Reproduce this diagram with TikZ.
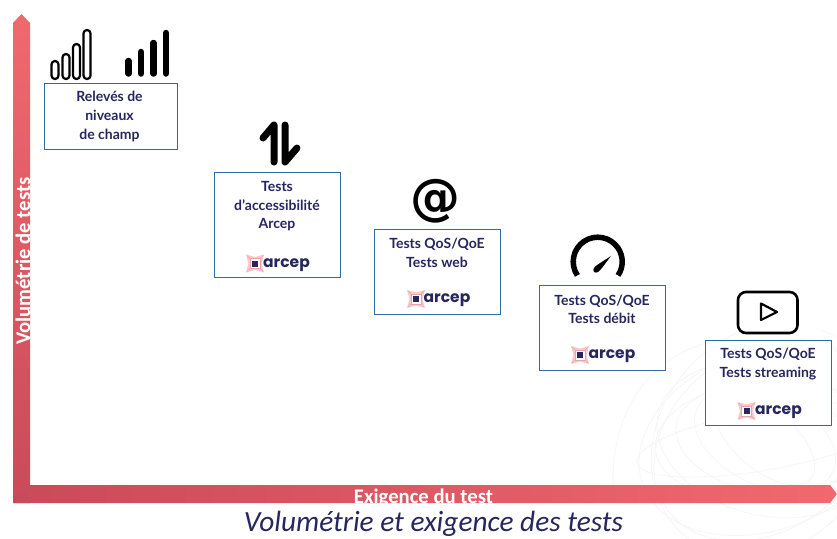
\documentclass[tikz,border=0pt]{standalone}
\usepackage{fontspec}
\setmainfont{Lato}
\newfontfamily\capfont{Carlito}
\newfontfamily\logofont{Poppins}
\newfontfamily\iconfont{DejaVu Sans}
\usetikzlibrary{shadings}
\definecolor{navy}{HTML}{27265F}
\definecolor{boxblue}{HTML}{2F6AA3}
\definecolor{redlight}{HTML}{F0696E}
\definecolor{reddark}{HTML}{C94A5A}
\definecolor{swirl}{HTML}{F6F6F6}
\definecolor{logopink}{HTML}{F6C9CC}
\definecolor{logorose}{HTML}{E9A3AA}
\tikzset{
  x=1pt,y=-1pt,
  testbox/.style={draw=boxblue,line width=1pt,fill=white,minimum width=#1,inner sep=0pt},
  boxlabel/.style={font=\bfseries\fontsize{14}{18.6}\selectfont,text=navy,align=center,inner sep=0pt},
  axislabel/.style={font=\capfont\bfseries\fontsize{20.7}{22}\selectfont,text=white,inner sep=0pt},
  captionlabel/.style={font=\capfont\itshape\fontsize{29.3}{30}\selectfont,text=navy,inner sep=0pt},
  wave/.style={draw=swirl,line width=.8pt},
  outlinebar/.style={draw=black,line width=2.2pt,fill=white,rounded corners=3.4pt},
  solidbar/.style={line cap=round,line width=6.5pt,draw=black},
  iconline/.style={draw=black,line cap=round,line join=round,line width=7pt},
  logotext/.style={font=\logofont\bfseries\fontsize{15.5}{16}\selectfont,text=navy,inner sep=0pt,anchor=west},
  logomark/.pic={
    \fill[logopink] (-9,-9) -- (0,-6.5) -- (9,-9) -- (6.5,0) -- (9,9) -- (0,6.5) -- (-9,9) -- (-6.5,0) -- cycle;
    \draw[logorose,line width=.6pt] (-8,-8) -- (8,8) (-8,8) -- (8,-8);
    \fill[white] (-4.8,-4.8) rectangle (4.8,4.8);
    \draw[logorose,line width=.6pt] (-4.8,-4.8) rectangle (4.8,4.8);
    \fill[navy] (-3,-3) rectangle (3,3);
  }
}
\begin{document}
\begin{tikzpicture}
\useasboundingbox (0,0) rectangle (837,538);
\fill[white] (0,0) rectangle (837,538);
% faint background swirl
\begin{scope}
  \clip (600,330) rectangle (837,538);
  \foreach \r/\a/\b in {110/60/130,125/60/120,95/40/110,80/35/90,65/30/75,50/20/60,140/70/125,100/20/130,75/50/110}{
    \draw[wave,rotate around={\r:(765,440)}] (765,440) ellipse ({\a*1.5} and {\b});
  }
  \draw[wave] (613,490) .. controls (610,400) and (660,350) .. (720,340);
\end{scope}
% axes
\path[top color=redlight,bottom color=reddark] (13,23) -- (21.5,14) -- (30,23) -- (30,503) -- (13,503) -- cycle;
\path[left color=reddark,right color=redlight] (30,485) -- (830,485) -- (837,494) -- (830,503) -- (13,503) -- (13,492) -- (30,492) -- cycle;
\node[axislabel,rotate=90] (ylabel) at (23,261) {Volumétrie de tests};
\begin{scope}
  \clip (13,485) rectangle (837,503);
  \node[axislabel] (xlabel) at (423.5,498) {Exigence du test};
\end{scope}
% boxes
\node[testbox=133pt,minimum height=66pt] (box1) at (110.5,116) {};
\node[testbox=126pt,minimum height=105pt] (box2) at (277.5,225) {};
\node[testbox=126pt,minimum height=85pt] (box3) at (437.3,271.8) {};
\node[testbox=126pt,minimum height=85pt] (box4) at (602.3,327.8) {};
\node[testbox=126pt,minimum height=85pt] (box5) at (768.5,382.7) {};
\node[boxlabel] (text1) at (109.5,116.5) {Relevés de\\niveaux\\de champ};
\node[boxlabel] (text2) at (277,206.5) {Tests\\d’accessibilité\\Arcep};
\node[boxlabel] (text3) at (437,253) {Tests QoS/QoE\\Tests web};
\node[boxlabel] (text4) at (602,309.5) {Tests QoS/QoE\\Tests débit};
\node[boxlabel] (text5) at (768,364) {Tests QoS/QoE\\Tests streaming};
% logos
\pic at (255,263.5) {logomark};
\node[logotext] (logo2) at (263,265) {arcep};
\pic at (416,299) {logomark};
\node[logotext] (logo3) at (423.5,300.5) {arcep};
\pic at (580,355) {logomark};
\node[logotext] (logo4) at (588.5,356.5) {arcep};
\pic at (746.5,411) {logomark};
\node[logotext] (logo5) at (755,412.5) {arcep};
% signal icons
\foreach \x/\t in {55/61,66/54,76.5/44,87/30}{
  \draw[outlinebar] (\x-3.5,\t) rectangle (\x+3.5,79);
}
\foreach \x/\t in {128.5/61,141/52,153.5/43,166/33}{
  \draw[solidbar] (\x,\t) -- (\x,73.5);
}
% up/down arrows
\draw[iconline] (263,138) -- (274,125) -- (274,162);
\draw[iconline] (285,125) -- (285,162) -- (297,148);
% at sign
\node[inner sep=0pt,font=\iconfont\bfseries\fontsize{50}{50}\selectfont] (atsign) at (435,201) {@};
% gauge
\draw[draw=black,line width=5.5pt] (577.4,275.4) arc[start angle=146,end angle=394,radius=24.5];
\fill[black] (611,256) .. controls (604,265) and (601,270) .. (598,272) .. controls (595,274) and (592,271) .. (594,268) .. controls (596,265) and (602,262) .. (611,256) -- cycle;
% play
\draw[draw=black,line width=2.6pt,rounded corners=8pt] (738,292) rectangle (797.5,333);
\draw[draw=black,line width=2.2pt,line join=round] (761,303.5) -- (777,312) -- (761,320) -- cycle;
% caption
\node[captionlabel] (caption) at (433.5,523.5) {Volumétrie et exigence des tests};
\end{tikzpicture}
\end{document}
